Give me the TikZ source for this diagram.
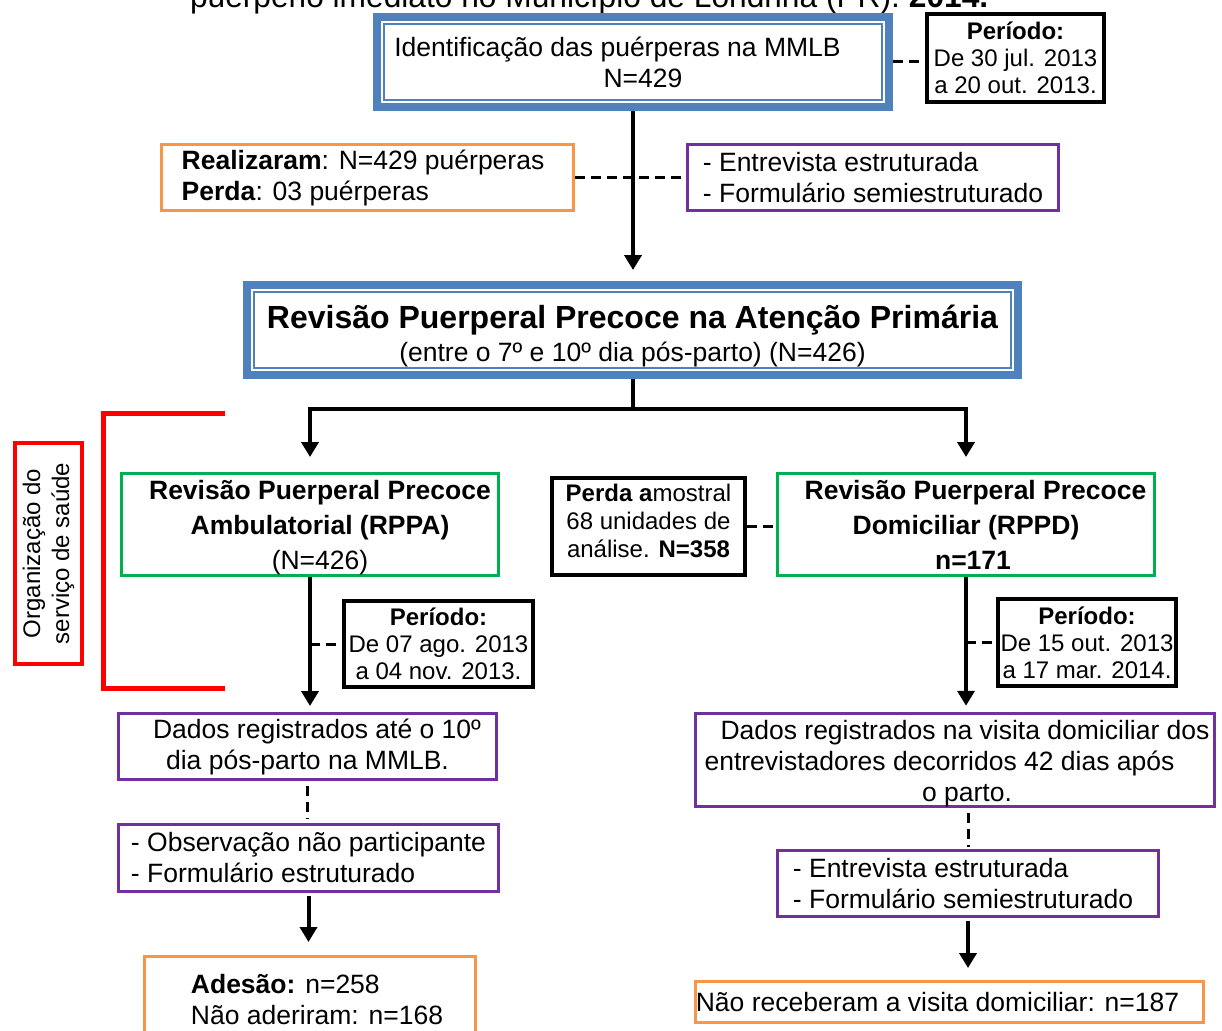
\documentclass[tikz,border=0pt]{standalone}
\usepackage{fontspec}
\setmainfont{Liberation Sans}
\usetikzlibrary{arrows.meta,calc}

\definecolor{boxblue}{RGB}{79,129,189}
\definecolor{boxorange}{RGB}{247,150,70}
\definecolor{boxpurple}{RGB}{112,48,160}
\definecolor{boxgreen}{RGB}{0,176,80}

\newcommand{\fsz}[2]{\fontsize{#1}{#2}\selectfont}
\newcommand{\nodepth}[1]{\raisebox{0pt}[\height][0pt]{#1}}

\begin{document}
\begin{tikzpicture}[x=1pt,y=-1pt,
  every node/.style={inner sep=0pt, outer sep=0pt},
  txtbox/.style={rectangle, font=\fsz{26.5}{31}},
  mainbox/.style={txtbox, draw=boxblue, line width=8pt},
  periodbox/.style={txtbox, draw=black, line width=4pt, align=center, font=\fsz{24}{27}},
  orangebox/.style={txtbox, draw=boxorange, line width=3pt},
  purplebox/.style={txtbox, draw=boxpurple, line width=3pt},
  greenbox/.style={txtbox, draw=boxgreen, line width=3pt, align=center, font=\fsz{26.5}{35}},
  conn/.style={line width=4pt, draw=black},
  arrow/.style={conn, -{Triangle[length=15pt,width=17pt]}},
  dashconn/.style={line width=3pt, dash pattern=on 10pt off 6pt},
  innerline/.style={draw=boxblue, line width=2pt},
]
\path[use as bounding box, clip] (0,0) rectangle (1222,1030);
\fill[white] (0,0) rectangle (1222,1030);

% heading line above the chart
\node[txtbox, anchor=base west, font=\fsz{31.7}{36}] (heading) at (190,7.5)
  {puerpério imediato no Município de Londrina (PR). \textbf{2014.}};

% identification of the women
\node[mainbox, minimum width=512pt, minimum height=90pt, align=center] (b1) at (633,62)
  {\hspace*{-31pt}Identificação das puérperas na MMLB\\\hspace*{20pt}N=429};
\draw[innerline] ($(b1.north west)+(7,7)$) rectangle ($(b1.south east)+(-7,-7)$);

\node[periodbox, minimum width=177pt, minimum height=88pt] (p1) at (1015.5,58)
  {\textbf{Período:}\\De 30 jul. 2013\\a 20 out. 2013.};

\node[orangebox, minimum width=412pt, minimum height=66pt, align=left] (o1) at (367.5,177.5)
  {\hspace*{-9pt}\textbf{Realizaram}: N=429 puérperas\\\hspace*{-9pt}\textbf{Perda}: 03 puérperas};
\node[purplebox, minimum width=371pt, minimum height=66pt, align=left] (u1) at (873,177.5)
  {- Entrevista estruturada\\- Formulário semiestruturado};

% early puerperal review
\node[mainbox, minimum width=771pt, minimum height=90pt, align=center, font=\fsz{26.5}{33}] (b2) at (632.5,330)
  {\rule{0pt}{36pt}{\fsz{32}{36}\bfseries Revisão Puerperal Precoce na Atenção Primária}\\(entre o 7º e 10º dia pós-parto) (N=426)};
\draw[innerline] ($(b2.north west)+(7,7)$) rectangle ($(b2.south east)+(-7,-7)$);

% health service organisation bracket
\node[txtbox, draw=red, line width=4pt, rotate=90, minimum width=221pt, minimum height=67pt,
  align=center, font=\fsz{24}{29}] (org) at (48.5,553.5)
  {Organização do\\serviço de saúde};
\draw[red, line width=5pt] (225,413) -- (103,413) -- (103,688) -- (225,688);

% the two branches
\node[greenbox, minimum width=377pt, minimum height=102pt] (g1) at (310,524.5)
  {\hspace*{20pt}\textbf{Revisão Puerperal Precoce}\\\hspace*{20pt}\textbf{Ambulatorial (RPPA)}\\\hspace*{20pt}\nodepth{(N=426)}};
\node[periodbox, font=\fsz{24}{28}, minimum width=193pt, minimum height=97pt] (pa) at (648.5,526.5)
  {\textbf{Perda a}mostral\\68 unidades de\\análise. \textbf{N=358}\rule[-12pt]{0pt}{12pt}};
\node[greenbox, minimum width=377pt, minimum height=102pt] (g2) at (966,524.5)
  {\hspace*{19pt}\textbf{Revisão Puerperal Precoce}\\\textbf{Domiciliar (RPPD)}\\\hspace*{14pt}\textbf{n=171}};

\node[periodbox, minimum width=189pt, minimum height=86pt] (p2) at (438.5,644)
  {\textbf{Período:}\\De 07 ago. 2013\\a 04 nov. 2013.};
\node[periodbox, minimum width=178pt, minimum height=87pt] (p3) at (1087,642.5)
  {\textbf{Período:}\\De 15 out. 2013\\a 17 mar. 2014.};

% left branch: outpatient review
\node[purplebox, minimum width=378pt, minimum height=66pt, align=center] (d1) at (307.5,746.5)
  {\hspace*{19pt}Dados registrados até o 10º\\dia pós-parto na MMLB.};
\node[purplebox, minimum width=380pt, minimum height=67pt, align=left] (ob) at (308.5,858)
  {- Observação não participante\\- Formulário estruturado};
\node[orangebox, minimum width=331pt, minimum height=87pt, align=left] (ad) at (310,1000)
  {\hspace*{14pt}\textbf{Adesão:} n=258\\\hspace*{14pt}Não aderiram: n=168};

% right branch: home visit review
\node[purplebox, minimum width=519pt, minimum height=93pt, align=center] (d2) at (955,760)
  {\rule{0pt}{26pt}\hspace*{20pt}Dados registrados na visita domiciliar dos\\\hspace*{-31pt}entrevistadores decorridos 42 dias após\\\hspace*{24pt}o parto.};
\node[purplebox, minimum width=381pt, minimum height=66pt, align=left] (en) at (968,883.5)
  {\hspace*{-10pt}- Entrevista estruturada\\\hspace*{-10pt}- Formulário semiestruturado};
\node[orangebox, minimum width=508pt, minimum height=41pt] (nr) at (949.5,1002)
  {\hspace*{-24pt}Não receberam a visita domiciliar: n=187};

% connectors
\draw[arrow, shorten <=4pt, shorten >=15pt] (b1.south) -- (b1.south |- b2.north);
\draw[dashconn, shorten <=4pt, shorten >=2pt] (b1.east) -- (b1.east -| p1.west);
\draw[dashconn, shorten <=1.5pt, shorten >=1.5pt] (o1.east) -- (u1.west);

\coordinate (split) at (632.5,409);
\draw[conn, shorten <=4pt] (b2.south) -- (split);
\draw[arrow, shorten >=16.5pt] (split) -| (g1.north);
\draw[arrow, shorten >=16.5pt] (split) -| (g2.north);

\draw[dashconn, shorten <=2pt, shorten >=1.5pt] (pa.east) -- (pa.east -| g2.west);

\draw[arrow, shorten <=1.5pt, shorten >=7.5pt] (g1.south) -- (g1.south |- d1.north);
\draw[dashconn, shorten >=2pt] (g1.south |- p2.west) -- (p2.west);
\draw[arrow, shorten <=1.5pt, shorten >=7.5pt] (g2.south) -- (g2.south |- d2.north);
\draw[dashconn, shorten >=2pt] (g2.south |- p3.west) -- (p3.west);

\draw[dashconn, shorten <=6pt, shorten >=6pt] (d1.south) -- (d1.south |- ob.north);
\draw[arrow, shorten <=4pt, shorten >=14.5pt] (ob.south) -- (ob.south |- ad.north);
\draw[dashconn, shorten <=6pt, shorten >=4pt] (en.north |- d2.south) -- (en.north);
\draw[arrow, shorten <=4pt, shorten >=13.5pt] (en.south) -- (en.south |- nr.north);
\end{tikzpicture}
\end{document}
